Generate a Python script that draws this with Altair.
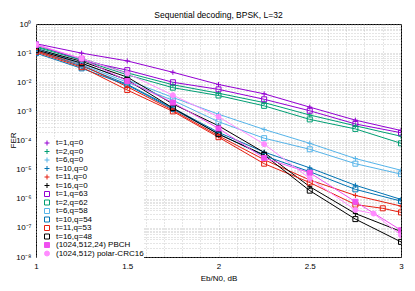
import altair as alt
import pandas as pd

TITLE = "Sequential decoding, BPSK, L=32"
X_LABEL = "Eb/N0, dB"
Y_LABEL = "FER"

SNR = [1.0, 1.25, 1.5, 1.75, 2.0, 2.25, 2.5, 2.75, 3.0]
SNR_T11Q53 = [1.0, 1.25, 1.5, 1.75, 2.0, 2.25, 2.5, 2.75, 2.9, 3.0]
SNR_CRC16 = [1.0, 1.25, 1.5, 1.75, 2.0, 2.25, 2.5, 2.75, 2.85, 3.0]

FER_T1Q0 = [0.21, 0.10, 0.054, 0.022, 0.0084, 0.0040, 0.0014, 0.00050, 0.00022]
FER_T2Q0 = [0.17, 0.065, 0.021, 0.0082, 0.0042, 0.0020, 0.00075, 0.00032, 0.000140]
FER_T6Q0 = [0.15, 0.045, 0.012, 0.0030, 0.00080, 0.00024, 0.000080, 0.000024, 0.0000095]
FER_T10Q0 = [0.12, 0.036, 0.0085, 0.0013, 0.00019, 0.000040, 0.0000115, 0.0000029, 0.00000095]
FER_T11Q0 = [0.12, 0.040, 0.0070, 0.0011, 0.000145, 0.000022, 0.0000044, 0.0000013, 0.00000056]
FER_T16Q0 = [0.14, 0.052, 0.015, 0.0018, 0.00032, 0.000039, 0.0000026, 0.00000031, 0.000000075]
FER_T1Q63 = [0.20, 0.056, 0.026, 0.010, 0.0057, 0.0026, 0.00105, 0.00037, 0.000185]
FER_T2Q62 = [0.16, 0.058, 0.018, 0.0065, 0.0035, 0.00155, 0.00053, 0.00025, 0.000080]
FER_T6Q58 = [0.14, 0.040, 0.010, 0.0024, 0.00044, 0.00012, 0.000050, 0.000016, 0.0000070]
FER_T10Q54 = [0.10, 0.030, 0.0080, 0.0012, 0.00017, 0.000030, 0.0000085, 0.0000021, 0.00000083]
FER_T11Q53 = [0.11, 0.033, 0.0054, 0.0010, 0.00013, 0.000016, 0.0000036, 0.00000063, 0.00000047, 0.00000034]
FER_T16Q48 = [0.13, 0.045, 0.012, 0.0013, 0.000165, 0.000032, 0.0000019, 0.00000020, 0.000000033]
FER_PBCH = [0.19, 0.065, 0.011, 0.0020, 0.00026, 0.000025, 0.0000078, 0.00000079, 0.000000083]
FER_CRC16 = [0.20, 0.065, 0.020, 0.0036, 0.00065, 0.000075, 0.0000050, 0.00000041, 0.00000031, 0.000000056]

SERIES = ["t=1,q=0", "t=2,q=0", "t=6,q=0", "t=10,q=0", "t=11,q=0", "t=16,q=0",
          "t=1,q=63", "t=2,q=62", "t=6,q=58", "t=10,q=54", "t=11,q=53", "t=16,q=48",
          "(1024,512,24) PBCH", "(1024,512) polar-CRC16"]
SERIES_X = [SNR] * 10 + [SNR_T11Q53, SNR, SNR, SNR_CRC16]
SERIES_Y = [FER_T1Q0, FER_T2Q0, FER_T6Q0, FER_T10Q0, FER_T11Q0, FER_T16Q0,
            FER_T1Q63, FER_T2Q62, FER_T6Q58, FER_T10Q54, FER_T11Q53, FER_T16Q48,
            FER_PBCH, FER_CRC16]

BASE_COLORS = ["#9400d3", "#009e73", "#56b4e9", "#0072b2", "#e51e10", "#000000"]
PBCH_COLOR = "#f050f0"
CRC_COLOR = "#ff8cff"
COLORS = BASE_COLORS + BASE_COLORS + [PBCH_COLOR, CRC_COLOR]
PLUS = "M-1,0H1M0,-1V1"
SHAPES = [PLUS] * 6 + ["square"] * 6 + ["square", "circle"]
FILLS = ["transparent"] * 12 + [PBCH_COLOR, CRC_COLOR]

rows = []
for name, xs, ys in zip(SERIES, SERIES_X, SERIES_Y):
    for xv, yv in zip(xs, ys):
        rows.append({"series": name, "snr": xv, "fer": yv})
df = pd.DataFrame(rows)

Y_TICKS = [m * 10.0 ** k for k in range(-8, 1) for m in range(1, 10) if m * 10.0 ** k <= 1.0 + 1e-12]
X_TICKS = [round(1.0 + 0.1 * i, 1) for i in range(21)]

FONT = "Liberation Sans"

y_label_expr = (
    "abs(log(datum.value)/LN10 - round(log(datum.value)/LN10)) < 0.001 ? "
    "('10' + (round(log(datum.value)/LN10) < 0 ? '⁻' : '') + "
    "substring('⁰¹²³⁴⁵⁶⁷⁸⁹', abs(round(log(datum.value)/LN10)), abs(round(log(datum.value)/LN10)) + 1)) : ''"
)
x_label_expr = "abs(datum.value*2 - round(datum.value*2)) < 0.001 ? toString(round(datum.value*10)/10) : ''"

x_enc = alt.X("snr:Q", scale=alt.Scale(domain=[1, 3], nice=False, zero=False),
              axis=alt.Axis(values=X_TICKS, labelExpr=x_label_expr, title=X_LABEL,
                            titleY=17, labelPadding=5, labelFlush=False))
y_enc = alt.Y("fer:Q", scale=alt.Scale(type="log", domain=[1e-8, 1], nice=False),
              axis=alt.Axis(values=Y_TICKS, labelExpr=y_label_expr, title=Y_LABEL,
                            titleX=-19, titleY=116, labelPadding=5))

color_scale = alt.Scale(domain=SERIES, range=COLORS)

base = alt.Chart(df)
lines = base.mark_line(strokeWidth=1, clip=True).encode(
    x=x_enc, y=y_enc,
    color=alt.Color("series:N", scale=color_scale, title=None),
    detail="series:N",
)
points = base.mark_point(filled=False, strokeWidth=1, opacity=1, size=25, clip=True).encode(
    x=x_enc, y=y_enc,
    color=alt.Color("series:N", scale=color_scale, title=None),
    fill=alt.Fill("series:N", scale=alt.Scale(domain=SERIES, range=FILLS), title=None),
    shape=alt.Shape("series:N", scale=alt.Scale(domain=SERIES, range=SHAPES), title=None),
)

chart = alt.layer(lines, points).properties(
    width=365, height=233,
    title=alt.TitleParams(TITLE, fontSize=8.5, font=FONT, fontWeight="normal", offset=1,
                          anchor="middle", color="black", frame="group"),
    autosize=alt.AutoSizeParams(type="none"),
    padding={"left": 28, "top": 16, "right": 6, "bottom": 26},
).configure_view(
    stroke="black", strokeWidth=1
).configure_axis(
    labelFont=FONT, labelFontSize=8, labelColor="black",
    titleFont=FONT, titleFontSize=8, titleFontWeight="normal", titleColor="black",
    ticks=False, domain=False, grid=True,
    gridColor="#a8a8a8", gridDash=[1, 2], gridWidth=0.6,
).configure_legend(
    orient="none", legendX=1, legendY=115, direction="vertical",
    fillColor="white", padding=0, labelFont=FONT, labelFontSize=8, labelColor="black",
    labelAlign="left", labelOffset=5, symbolOffset=6, clipHeight=8, rowPadding=0.5,
    symbolStrokeWidth=1, symbolSize=25, labelLimit=0,
)

chart.save("out.html", embed_options={"renderer": "svg", "actions": False})
